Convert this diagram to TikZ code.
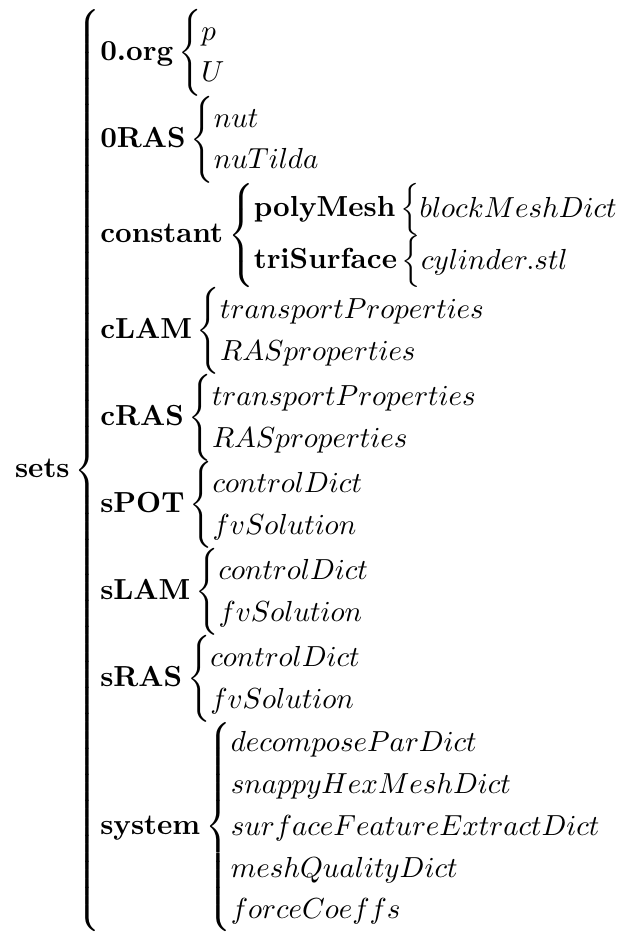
\documentclass[tikz,border=0pt]{standalone}
\usepackage{amsmath}
\usepackage{amssymb}
\usepackage{tikz}

\newcommand{\dirset}[2]{\textbf{#1}\left\{\begin{array}{@{}l@{}}#2\end{array}\right.}
\renewcommand{\arraystretch}{1.2}

\begin{document}
\begin{tikzpicture}[auto]
	\node[inner sep=0pt] (sets) {$\dirset{sets}{
		\dirset{0.org}{p\\ U}\\
		\dirset{0RAS}{nut\\ nuTilda}\\
		\dirset{constant}{\dirset{polyMesh}{blockMeshDict}\\ \dirset{triSurface}{cylinder.stl}}\\
		\dirset{cLAM}{transportProperties\\ RASproperties}\\
		\dirset{cRAS}{transportProperties\\ RASproperties}\\
		\dirset{sPOT}{controlDict\\ fvSolution}\\
		\dirset{sLAM}{controlDict\\ fvSolution}\\
		\dirset{sRAS}{controlDict\\ fvSolution}\\
		\dirset{system}{decomposeParDict\\ snappyHexMeshDict\\ surfaceFeatureExtractDict\\ meshQualityDict\\ forceCoeffs}}$};
	%\node (out) [right of=sets] {};
	\useasboundingbox ([shift={(-5pt,0pt)}]sets.south west) rectangle ([shift={(2.5pt,3pt)}]sets.north east);
\end{tikzpicture}
\end{document}
